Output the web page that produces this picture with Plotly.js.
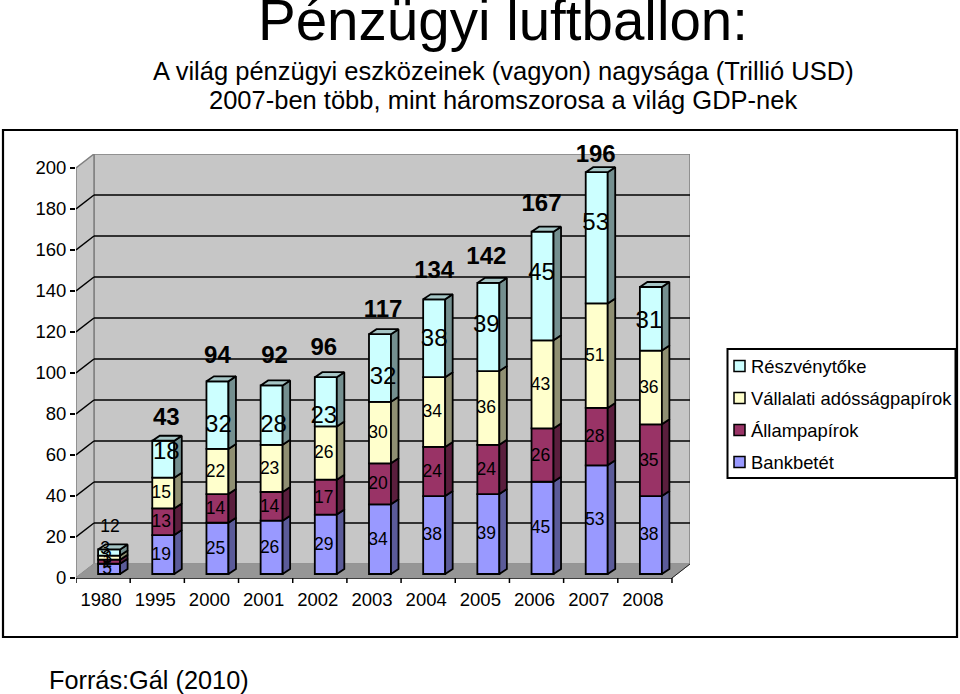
<!DOCTYPE html>
<html><head><meta charset="utf-8">
<script src="https://cdn.plot.ly/plotly-3.0.1.min.js"></script>
<style>html,body{margin:0;padding:0;background:#fff}</style>
</head><body><div id="chart" style="width:960px;height:694px"></div>
<script>
const years = ['1980','1995','2000','2001','2002','2003','2004','2005','2006','2007','2008'];
const seriesNames = ['Részvénytőke','Vállalati adósságpapírok','Állampapírok','Bankbetét'];
// plotted heights
const deposits = [5,19,25,26,29,34,38,39,45,53,38];
const govBonds = [2,13,14,14,17,20,24,24,26,28,35];
const corpBonds = [2,15,22,23,26,30,34,36,43,51,36];
const shares = [3,18,33,29,24,33,38,43,53,64,31];
// printed labels (differ from the heights in the source chart)
const depositLabels = ['5','19','25','26','29','34','38','39','45','53','38'];
const govLabels = ['1','13','14','14','17','20','24','24','26','28','35'];
const corpLabels = ['3','15','22','23','26','30','34','36','43','51','36'];
const shareLabels = ['3','18','32','28','23','32','38','39','45','53','31'];
const totalLabels = ['12','43','94','92','96','117','134','142','167','196',''];
// printed label heights, in axis units
const shareLabelLevel = [14,61,74.1,74.1,78.5,97.5,116,122.9,148.3,172.7,124.9];
const totalLabelLevel = [24.4,77.5,107.8,107.8,111.7,130.2,149.2,156,181.9,205.8,0];
const shareLabelShift = [-2,5,3,4,0,5,2,0,1,1,0];
const totalLabelShift = [3,5,2,5,0,5,2,0,1,1,0];
const frontColors = ['#CCFFFF','#FFFFCC','#993366','#9999FF'];
const sideColors = ['#748f8f','#8f8f72','#5a1e3d','#5b5b99'];
const topColor = '#a6c6c6';

const PLOT = {l:76,t:154,w:614,h:424};
const pxCat = 54.18, pxVal = 2.05;
const xMin = -0.5, xMax = xMin + PLOT.w/pxCat, yMax = PLOT.h/pxVal;
const wallDX = 18/pxCat, wallDY = 14/pxVal;
const barCentre = 6/pxCat, barW = 22/pxCat, barLift = 4/pxVal;
const faceDX = 7.5/pxCat, faceDY = 5/pxVal;
const xEnd = 10.5;
const idx = years.map((_,i)=>i);
const px = x => (x-PLOT.l)/PLOT.w, py = y => (PLOT.t+PLOT.h-y)/PLOT.h;

const stackOrder = [deposits,govBonds,corpBonds,shares];
const orderNames = [seriesNames[3],seriesNames[2],seriesNames[1],seriesNames[0]];
const orderFront = [frontColors[3],frontColors[2],frontColors[1],frontColors[0]];
const orderSide = [sideColors[3],sideColors[2],sideColors[1],sideColors[0]];
const edge = 1.8;
let cum = years.map(()=>barLift);
const traces = [], faces = [], mids = [];
stackOrder.forEach((vals,s)=>{
  const base = cum.slice();
  traces.push({type:'bar',name:orderNames[s],x:idx,y:vals,base:base,width:barW,offset:barCentre-barW/2,
    marker:{color:orderFront[s],line:{color:'#000',width:edge}},showlegend:false,hoverinfo:'x+y'});
  const sx=[],sy=[];
  idx.forEach(i=>{
    const r=i+barCentre+barW/2, b=base[i], t=base[i]+vals[i];
    sx.push(r,r+faceDX,r+faceDX,r,r,null);
    sy.push(b,b+faceDY,t+faceDY,t,b,null);
  });
  faces.push({type:'scatter',mode:'lines',x:sx,y:sy,fill:'toself',fillcolor:orderSide[s],
    line:{color:'#000',width:edge},hoverinfo:'skip',showlegend:false});
  mids.push(base.map((b,i)=>b+vals[i]/2-0.5));
  cum = base.map((b,i)=>b+vals[i]);
});
const tx=[],ty=[];
idx.forEach(i=>{
  const l=i+barCentre-barW/2, r=l+barW, t=cum[i];
  tx.push(l,r,r+faceDX,l+faceDX,l,null);
  ty.push(t,t,t+faceDY,t+faceDY,t,null);
});
faces.push({type:'scatter',mode:'lines',x:tx,y:ty,fill:'toself',fillcolor:topColor,
  line:{color:'#000',width:edge},hoverinfo:'skip',showlegend:false});

const centres = idx.map(i=>i+barCentre-2/pxCat);
function labelTrace(xs,ys,texts,sizes){
  return {type:'scatter',mode:'text',x:xs,y:ys,text:texts,textposition:'middle center',cliponaxis:false,
    textfont:{family:'Liberation Sans, Arial, sans-serif',color:'#000',size:sizes},hoverinfo:'skip',showlegend:false};
}
const small = 17.5, big = 24;
const labelTraces = [
  labelTrace(centres,mids[0],depositLabels,small),
  labelTrace(centres,mids[1],govLabels,small),
  labelTrace(centres,mids[2],corpLabels,small),
  labelTrace(centres.map((c,i)=>c+shareLabelShift[i]/pxCat),shareLabelLevel,shareLabels,idx.map(i=>i===0?small:big)),
  labelTrace(centres.map((c,i)=>c+totalLabelShift[i]/pxCat),totalLabelLevel,
    totalLabels.map((t,i)=>i===0||!t?t:'<b>'+t+'</b>'),idx.map(i=>i===0?small:big))
];

// walls, floor, gridlines
const shapes=[];
const poly=(pts,fill,lineColor,w,layer)=>({type:'path',xref:'x',yref:'y',layer:layer||'below',
  path:pts.map((p,i)=>(i?'L':'M')+p[0]+' '+p[1]).join(' ')+' Z',fillcolor:fill,line:{color:lineColor,width:w}});
const x0=xMin, wx=xMin+wallDX, xr=xEnd, wxr=xEnd+wallDX, wallTop=200;
shapes.push(poly([[wx,wallDY],[wxr,wallDY],[wxr,wallTop+wallDY],[wx,wallTop+wallDY]],'#c6c6c6','#808080',1.5));
shapes.push(poly([[x0,0],[wx,wallDY],[wx,wallTop+wallDY],[x0,wallTop]],'#c6c6c6','#808080',1.5));
shapes.push(poly([[x0,0],[xr,0],[wxr,wallDY],[wx,wallDY]],'#969696','#969696',1));
[20,40,60,80,100,120,140,160,180].forEach(v=>{
  shapes.push({type:'line',layer:'below',xref:'x',yref:'y',x0:x0,x1:wx,y0:v,y1:v+wallDY,line:{color:'#000',width:1.5}});
  shapes.push({type:'line',layer:'below',xref:'x',yref:'y',x0:wx,x1:wxr,y0:v+wallDY,y1:v+wallDY,line:{color:'#000',width:1.5}});
});
// axis lines and category ticks
shapes.push({type:'line',layer:'below',xref:'x',yref:'paper',x0:x0,x1:x0,y0:0,y1:200/yMax,line:{color:'#000',width:1.5}});
shapes.push({type:'line',layer:'below',xref:'x',yref:'paper',x0:x0,x1:xr,y0:0,y1:0,line:{color:'#000',width:1.5}});
shapes.push({type:'line',layer:'below',xref:'x',yref:'y',x0:xr,x1:wxr,y0:0,y1:wallDY,line:{color:'#222',width:1}});
for(let k=0;k<=11;k++){
  shapes.push({type:'line',layer:'below',xref:'x',yref:'paper',x0:xMin+k,x1:xMin+k,y0:0,y1:-5/PLOT.h,line:{color:'#000',width:1.5}});
}
// outer frame
shapes.push({type:'rect',layer:'below',xref:'paper',yref:'paper',x0:px(3),x1:px(957),y0:py(130),y1:py(637),line:{color:'#000',width:2.2},fillcolor:'rgba(0,0,0,0)'});
// legend box and swatches
shapes.push({type:'rect',xref:'paper',yref:'paper',x0:px(727.5),x1:px(955.5),y0:py(349),y1:py(478),line:{color:'#000',width:2},fillcolor:'#fff'});
const anns=[];
const font='Liberation Sans, Arial, sans-serif';
seriesNames.forEach((n,i)=>{
  const cy=366+32*i;
  shapes.push({type:'rect',xref:'paper',yref:'paper',x0:px(734),x1:px(745),y0:py(cy-5.5),y1:py(cy+5.5),line:{color:'#000',width:1.5},fillcolor:frontColors[i]});
  anns.push({xref:'paper',yref:'paper',x:px(749),y:py(cy),xanchor:'left',yanchor:'middle',showarrow:false,text:n,font:{family:font,size:18.4,color:'#000'}});
});
// subtitles and source
anns.push({xref:'paper',yref:'paper',x:px(503),y:py(71),xanchor:'center',yanchor:'middle',showarrow:false,text:'A világ pénzügyi eszközeinek (vagyon) nagysága (Trillió USD)',font:{family:font,size:25.5,color:'#000'}});
anns.push({xref:'paper',yref:'paper',x:px(503),y:py(100),xanchor:'center',yanchor:'middle',showarrow:false,text:'2007-ben több, mint háromszorosa a világ GDP-nek',font:{family:font,size:25.5,color:'#000'}});
anns.push({xref:'paper',yref:'paper',x:px(47),y:py(680),xanchor:'left',yanchor:'middle',showarrow:false,text:'Forrás:Gál (2010)',font:{family:font,size:25.3,color:'#000'}});

const layout={
  width:960,height:694,autosize:false,paper_bgcolor:'#fff',plot_bgcolor:'rgba(0,0,0,0)',
  margin:{l:PLOT.l,t:PLOT.t,r:960-PLOT.l-PLOT.w,b:694-PLOT.t-PLOT.h,pad:0},
  barmode:'overlay',showlegend:false,
  font:{family:font,color:'#000'},
  title:{text:'Pénzügyi luftballon:',x:503/960,xanchor:'center',y:1-20/694,yanchor:'middle',xref:'container',yref:'container',font:{family:font,size:56.5,color:'#000'}},
  xaxis:{type:'linear',range:[xMin,xMax],tickmode:'array',tickvals:idx.map(i=>i-2/pxCat),ticktext:years,ticks:'',showgrid:false,zeroline:false,showline:false,
    tickfont:{family:font,size:18.5,color:'#000'},ticklabelstandoff:8},
  yaxis:{range:[0,yMax],tickmode:'array',tickvals:[0,20,40,60,80,100,120,140,160,180,200],ticks:'outside',ticklen:5,tickwidth:1.5,tickcolor:'#000',
    showgrid:false,zeroline:false,showline:false,tickfont:{family:font,size:18.5,color:'#000'}},
  shapes:shapes,annotations:anns
};
Plotly.newPlot('chart',[...traces,...faces,...labelTraces],layout,{displayModeBar:false,staticPlot:true});
</script></body></html>
